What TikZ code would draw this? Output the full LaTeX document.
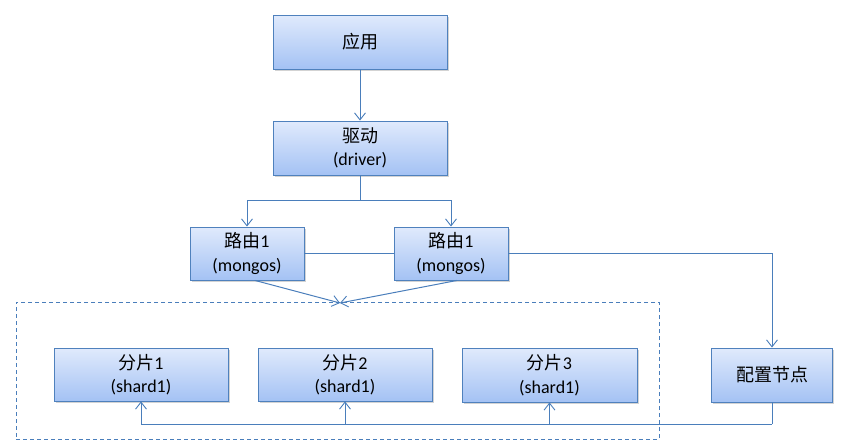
\documentclass[tikz,border=0pt]{standalone}
\usepackage{fontspec}
\setmainfont{Carlito}
\newfontfamily\cjk{Noto Sans CJK SC}
\usetikzlibrary{arrows.meta,shadows,calc}
\definecolor{edgeblue}{HTML}{4F81BD}
\definecolor{linkblue}{HTML}{4A7EBB}
\definecolor{topfill}{HTML}{E0EAFC}
\definecolor{botfill}{HTML}{A4C2F4}
\tikzset{
  box/.style={draw=edgeblue, line width=0.9pt, top color=topfill, bottom color=botfill,
    align=center, inner sep=0pt, font=\fontsize{18}{23.5}\selectfont,
    drop shadow={shadow xshift=1.5pt, shadow yshift=-1.5pt, opacity=0.35, fill=gray}},
  link/.style={draw=linkblue, line width=1pt},
  arr/.style={link, -{Straight Barb[length=7pt,width=11pt,line width=0.9pt]}},
  grpbox/.style={draw=linkblue, line width=0.8pt, dash pattern=on 4pt off 3pt, inner sep=0pt}
}
\begin{document}
\begin{tikzpicture}[x=1pt,y=-1pt]
\useasboundingbox (0,0) rectangle (841,447);
\node[grpbox, minimum width=643pt, minimum height=137pt] (grp) at (337.5,370.5) {};
\node[box, minimum width=174pt, minimum height=54pt] (app) at (360,42) {\cjk 应用};
\node[box, minimum width=174pt, minimum height=54pt] (drv) at (360,148) {{\cjk 驱动}\\(driver)};
\node[box, minimum width=114pt, minimum height=53pt] (r1) at (247,253.5) {{\cjk 路由}1\\(mongos)};
\node[box, minimum width=114pt, minimum height=53pt] (r2) at (451,253.5) {{\cjk 路由}1\\(mongos)};
\node[box, minimum width=174pt, minimum height=53pt] (s1) at (141,374.5) {{\cjk 分片}1\\(shard1)};
\node[box, minimum width=174pt, minimum height=53pt] (s2) at (345,374.5) {{\cjk 分片}2\\(shard1)};
\node[box, minimum width=175pt, minimum height=54pt] (s3) at (549.5,375) {{\cjk 分片}3\\(shard1)};
\node[box, minimum width=121pt, minimum height=54pt] (cfg) at (772,375) {\cjk 配置节点};
\coordinate (split) at (360,200);
\coordinate (tip) at (340,303);
\coordinate (bus) at (772,424);
\draw[arr] (app.south) -- (drv.north);
\draw[link] (drv.south) -- (split);
\draw[arr] (split) -| (r1.north);
\draw[arr] (split) -| (r2.north);
\draw[link] (r1.east) -- (r2.west);
\draw[arr] (r2.east) -| (cfg.north);
\draw[arr] ($(r1.south)+(8,0)$) -- (tip);
\draw[arr] ($(r2.south)+(6,0)$) -- (tip);
\draw[link] (cfg.south) -- (bus);
\draw[arr] (bus) -| (s1.south);
\draw[arr] (s2.south |- bus) -- (s2.south);
\draw[arr] (s3.south |- bus) -- (s3.south);
\end{tikzpicture}
\end{document}
